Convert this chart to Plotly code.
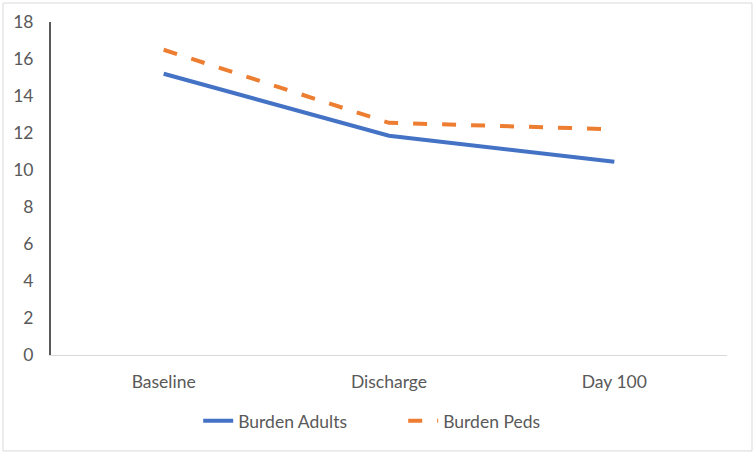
"""Line chart of burden scores for adults and peds over time"""

import plotly.graph_objects as go

categories = ["Baseline", "Discharge", "Day 100"]
burden_adults = [15.2, 11.85, 10.45]
burden_peds = [16.5, 12.55, 12.2]
y_ticks = list(range(0, 19, 2))

text_color = "#595959"
font_name = "Lato, Open Sans, sans-serif"

fig = go.Figure()
fig.add_trace(
    go.Scatter(
        x=categories,
        y=burden_adults,
        mode="lines",
        name="Burden Adults",
        line=dict(color="#4472C4", width=4),
    )
)
fig.add_trace(
    go.Scatter(
        x=categories,
        y=burden_peds,
        mode="lines",
        name="Burden Peds",
        line=dict(color="#ED7D31", width=4, dash="14px,15px"),
    )
)

fig.update_layout(
    width=755,
    height=454,
    margin=dict(l=51, r=28, t=22, b=99),
    paper_bgcolor="white",
    plot_bgcolor="white",
    font=dict(family=font_name, size=17.5, color=text_color),
    legend=dict(
        orientation="h",
        x=0.521,
        xanchor="center",
        y=-0.198,
        yanchor="middle",
        font=dict(size=17.5, color=text_color),
        entrywidth=160,
    ),
    showlegend=True,
)

# Outer chart border
fig.add_shape(
    type="rect",
    xref="paper",
    yref="paper",
    x0=-0.071,
    x1=1.037,
    y0=-0.288,
    y1=1.057,
    line=dict(color="#D9D9D9", width=1),
    layer="below",
)

fig.update_xaxes(
    type="category",
    range=[-0.5, 2.5],
    showgrid=False,
    showline=True,
    linecolor="#D9D9D9",
    linewidth=1,
    ticks="",
    ticklabelstandoff=11,
    zeroline=False,
)
fig.update_yaxes(
    range=[0, 18],
    tickvals=y_ticks,
    showgrid=False,
    showline=True,
    linecolor=text_color,
    linewidth=2,
    ticks="",
    ticklabelstandoff=12,
    zeroline=False,
)

# drop the page's default body margin so the chart sits at the window origin
fig.write_html(
    "out.html",
    config={"displayModeBar": False},
    post_script="document.body.style.margin='0';",
)
